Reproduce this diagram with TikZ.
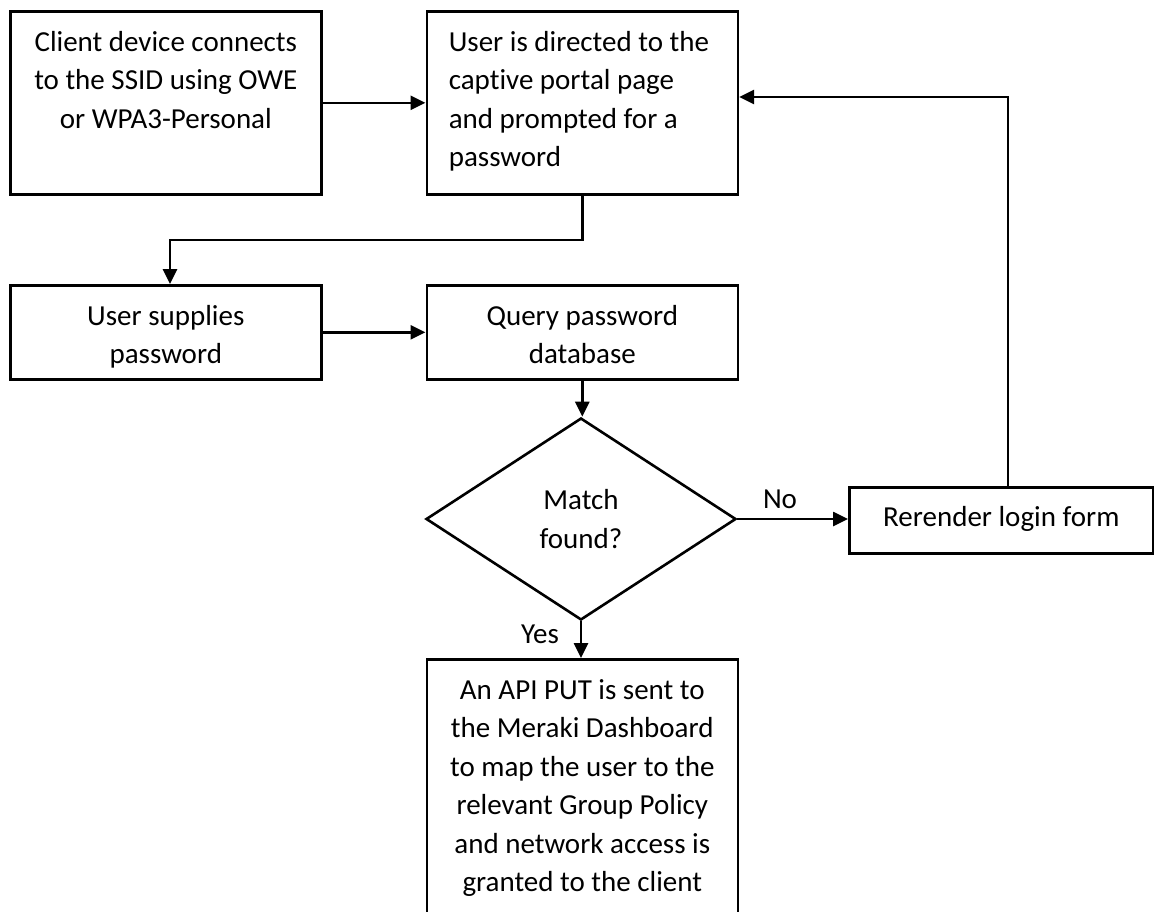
\documentclass[tikz,border=0pt]{standalone}
\usepackage{fontspec}
\setmainfont{Carlito}[Ligatures=NoCommon]
\usetikzlibrary{arrows.meta,shapes.geometric}

\newcommand{\flowfont}{\fontsize{29pt}{38.5pt}\selectfont}
\newcommand{\lpad}{\hspace*{22pt}}
% natural, fixed word spaces of the font (the aligned node text widens them otherwise)
\newcommand{\plainspaces}{\spaceskip=\fontdimen2\font\relax\xspaceskip=\fontdimen2\font\relax}

\tikzset{
  stepbox/.style={draw, line width=2.6pt, rectangle, inner sep=0pt,
    anchor=north west, font=\flowfont, text height=40pt, align=center,
    execute at begin node=\plainspaces},
  decision/.style={draw, line width=2.6pt, diamond, inner sep=0pt,
    font=\flowfont, align=center},
  flowarrow/.style={line width=2.6pt, -{Triangle[length=15pt,width=14pt]}},
  branchlabel/.style={font=\flowfont, anchor=base, inner sep=0pt},
}

\begin{document}
\begin{tikzpicture}[x=1pt,y=-1pt]
  \useasboundingbox (0,0) rectangle (1154,911);
  \fill[white] (0,0) rectangle (1154,911);
  \clip (0,0) rectangle (1154,911);

  % process steps
  \node[stepbox, text width=311pt, text depth=143pt] (connect) at (9,10)
    {Client device connects\\to the SSID using OWE\\or WPA3-Personal};
  \node[stepbox, text width=311pt, align=left, text depth=143pt] (portal) at (425.5,10)
    {\lpad User is directed to the\\\lpad captive portal page\\\lpad and prompted for a\\\lpad password};
  \node[stepbox, text width=311pt, text depth=54pt] (supply) at (9,284)
    {User supplies\\password};
  \node[stepbox, text width=311pt, text depth=54pt] (query) at (425.5,284)
    {Query password\\database};
  \node[decision, minimum width=310pt, minimum height=202pt] (match) at (581,519)
    {Match\\found?};
  \node[stepbox, text width=304pt, text height=39pt, text depth=27pt] (rerender) at (848,486)
    {Rerender login form};
  \node[stepbox, text width=311pt, text depth=240pt] (grant) at (425.5,658)
    {An API PUT is sent to\\the Meraki Dashboard\\to map the user to the\\relevant Group Policy\\and network access is\\granted to the client};

  % bend points of the routed connectors
  \coordinate (down) at (170,240);
  \coordinate (back) at (1008,97);

  % connectors
  \draw[flowarrow] (connect.east) -- (connect.east -| portal.west);
  \draw[flowarrow] (portal.south) |- (down) -- (supply.north -| down);
  \draw[flowarrow] (supply.east) -- (supply.east -| query.west);
  \draw[flowarrow] (query.south) -- (query.south |- match.north);
  \draw[flowarrow] (match.east) -- (match.east -| rerender.west);
  \draw[flowarrow] (match.south) -- (match.south |- grant.north);
  \draw[flowarrow] (rerender.north -| back) -- (back) -- (portal.east |- back);

  % branch labels
  \node[branchlabel] (no) at (780,508) {No};
  \node[branchlabel] (yes) at (540,643) {Yes};
\end{tikzpicture}
\end{document}
